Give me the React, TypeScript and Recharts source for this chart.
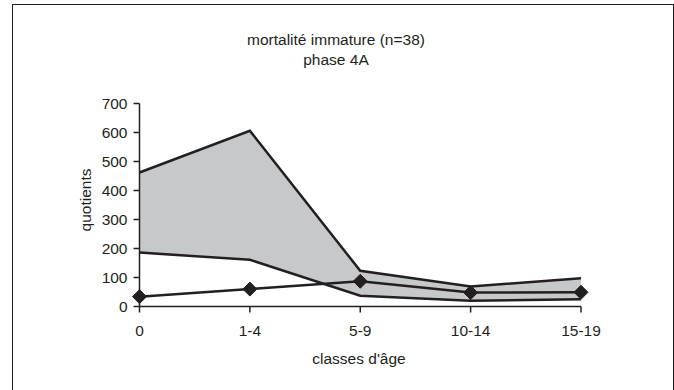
import React from 'react';
import { ComposedChart, Area, Line, XAxis, YAxis } from 'recharts';

const categories = ['0', '1-4', '5-9', '10-14', '15-19'];
const upperValues = [462, 606, 123, 69, 97];
const lowerValues = [186, 161, 37, 20, 25];
const observedValues = [34, 60, 87, 48, 49];
const yTicks = [0, 100, 200, 300, 400, 500, 600, 700];

const INK = '#231f20';
const FONT = '"Liberation Sans", Arial, sans-serif';
const FS = 15.5;

const data = categories.map((c, i) => ({
  age: c,
  band: [lowerValues[i], upperValues[i]],
  upper: upperValues[i],
  lower: lowerValues[i],
  observed: observedValues[i],
}));

const Diamond = (props: any) => {
  const { cx, cy } = props;
  if (cx == null || cy == null) return null;
  const r = 7;
  return (
    <path
      d={`M${cx},${cy - r} L${cx + r},${cy} L${cx},${cy + r} L${cx - r},${cy} Z`}
      fill={INK}
      stroke={INK}
    />
  );
};

export default function App() {
  return (
    <div
      style={{
        position: 'absolute',
        left: 0,
        top: 0,
        width: 674,
        height: 390,
        background: '#fff',
        overflow: 'hidden',
        fontFamily: FONT,
        color: INK,
      }}
    >
      {/* cadre */}
      <div
        style={{
          position: 'absolute',
          left: 12,
          top: 4,
          width: 660,
          height: 400,
          border: `1.2px solid ${INK}`,
        }}
      />
      <div style={{ position: 'absolute', left: 0, width: 672, top: 30, textAlign: 'center', fontSize: FS, lineHeight: '20px' }}>
        <div>mortalité immature (n=38)</div>
        <div>phase 4A</div>
      </div>
      <div
        style={{
          position: 'absolute',
          left: 86,
          top: 200,
          fontSize: FS,
          transform: 'translate(-50%, -50%) rotate(-90deg)',
          whiteSpace: 'nowrap',
        }}
      >
        quotients
      </div>
      <div style={{ position: 'absolute', left: 359, top: 359, fontSize: FS, transform: 'translate(-50%, -50%)', whiteSpace: 'nowrap' }}>
        classes d'âge
      </div>
      <div style={{ position: 'absolute', left: 0, top: 0 }}>
        <ComposedChart
          width={674}
          height={390}
          data={data}
          margin={{ top: 103.5, right: 93, bottom: 0, left: 0 }}
        >
          <XAxis
            dataKey="age"
            stroke={INK}
            strokeWidth={1.5}
            tickSize={6}
            tickMargin={12}
            tick={{ fill: INK, fontSize: FS, fontFamily: FONT }}
            height={83.5}
          />
          <YAxis
            width={139.5}
            domain={[0, 700]}
            ticks={yTicks}
            stroke={INK}
            strokeWidth={1.5}
            tickSize={6}
            tickMargin={6}
            tick={{ fill: INK, fontSize: FS, fontFamily: FONT }}
            interval={0}
          />
          <Area
            dataKey="band"
            type="linear"
            fill="#c7c8ca"
            fillOpacity={1}
            stroke="none"
            isAnimationActive={false}
          />
          <Line dataKey="upper" type="linear" stroke={INK} strokeWidth={2.5} dot={false} isAnimationActive={false} />
          <Line dataKey="lower" type="linear" stroke={INK} strokeWidth={2.5} dot={false} isAnimationActive={false} />
          <Line
            dataKey="observed"
            type="linear"
            stroke={INK}
            strokeWidth={2.5}
            dot={<Diamond />}
            isAnimationActive={false}
          />
        </ComposedChart>
      </div>
    </div>
  );
}
